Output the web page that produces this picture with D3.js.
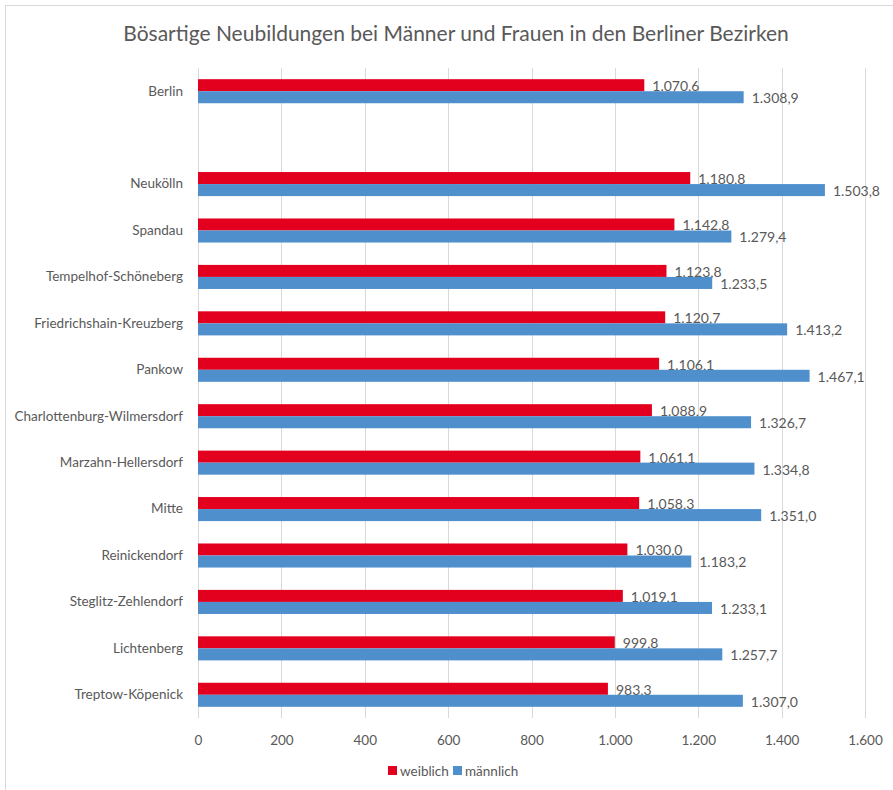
<html>
<head>
  <meta charset="utf-8">
  <style>
    body { margin: 0; background: #fff; }
    svg { font-family: Lato, "Open Sans", sans-serif; }
    .grid line { stroke: #d9d9d9; stroke-width: 1; }
    .label { fill: #595959; font-size: 13.5px; }
    .value { fill: #595959; font-size: 14px; }
  </style>
</head>
<body>
  <script src="https://cdn.jsdelivr.net/npm/d3@7"></script>
  <script>
    // values, top to bottom ("" = empty slot)
    const districts = ["Berlin", "", "Neukölln", "Spandau", "Tempelhof-Schöneberg",
      "Friedrichshain-Kreuzberg", "Pankow", "Charlottenburg-Wilmersdorf",
      "Marzahn-Hellersdorf", "Mitte", "Reinickendorf", "Steglitz-Zehlendorf",
      "Lichtenberg", "Treptow-Köpenick"];
    const weiblich = [1070.6, null, 1180.8, 1142.8, 1123.8, 1120.7, 1106.1, 1088.9,
      1061.1, 1058.3, 1030.0, 1019.1, 999.8, 983.3];
    const maennlich = [1308.9, null, 1503.8, 1279.4, 1233.5, 1413.2, 1467.1, 1326.7,
      1334.8, 1351.0, 1183.2, 1233.1, 1257.7, 1307.0];
    const series = ["weiblich", "männlich"];
    const colors = ["#e3001f", "#4f8fcc"];
    const xTicks = [0, 200, 400, 600, 800, 1000, 1200, 1400, 1600];

    const width = 893, height = 790;
    const de = d3.formatLocale({ decimal: ",", thousands: ".", grouping: [3], currency: ["", " €"] });
    const fmtVal = de.format(",.1f");
    const fmtTick = de.format(",.0f");

    const rows = districts.map((d, i) => ({ key: d || "_gap", name: d, values: [weiblich[i], maennlich[i]] }));

    const svg = d3.select("body").append("svg").attr("width", width).attr("height", height);

    // chart frame
    svg.append("rect")
      .attr("x", 5.5).attr("y", 5.5)
      .attr("width", width + 10).attr("height", height + 10)
      .attr("fill", "none").attr("stroke", "#d9d9d9");

    svg.append("text")
      .attr("x", 456).attr("y", 41)
      .attr("text-anchor", "middle")
      .attr("fill", "#595959")
      .style("font-size", "21px")
      .text("Bösartige Neubildungen bei Männer und Frauen in den Berliner Bezirken");

    const x = d3.scaleLinear().domain([0, 1600]).range([198, 865]);
    const y = d3.scaleBand().domain(rows.map(r => r.key)).range([68, 718]);
    const sub = d3.scaleBand().domain(series).range([0, y.bandwidth()]).paddingOuter(0.93);

    // grid
    svg.append("g").attr("class", "grid")
      .selectAll("line").data(xTicks).join("line")
      .attr("x1", d => Math.round(x(d)) + 0.5).attr("x2", d => Math.round(x(d)) + 0.5)
      .attr("y1", 68).attr("y2", 718);

    // x axis labels
    const xAxis = d3.axisBottom(x).tickValues(xTicks).tickFormat(fmtTick).tickSize(0).tickPadding(0);
    const ax = svg.append("g").attr("transform", "translate(0,745)").call(xAxis);
    ax.select(".domain").remove();
    ax.selectAll("text").attr("class", "label").attr("fill", null)
      .style("font-family", "Lato, 'Open Sans', sans-serif").style("font-size", "13.5px")
      .attr("dy", "0");

    // category labels
    const yAxis = d3.axisLeft(y).tickFormat(k => k === "_gap" ? "" : k).tickSize(0).tickPadding(0);
    const ay = svg.append("g").attr("transform", "translate(183,0)").call(yAxis);
    ay.select(".domain").remove();
    ay.selectAll("text").attr("class", "label").attr("fill", null)
      .style("font-family", "Lato, 'Open Sans', sans-serif").style("font-size", "13.5px");

    // bars
    const groups = svg.append("g").selectAll("g").data(rows.filter(r => r.name)).join("g")
      .attr("transform", d => `translate(0,${y(d.key)})`);

    const cells = groups.selectAll("g").data(d => d.values.map((v, i) => ({ v, s: series[i], c: colors[i] })))
      .join("g");

    cells.append("rect")
      .attr("x", x(0))
      .attr("y", d => sub(d.s))
      .attr("width", d => x(d.v) - x(0))
      .attr("height", sub.bandwidth())
      .attr("fill", d => d.c);

    cells.append("text")
      .attr("class", "value")
      .attr("x", d => x(d.v) + 8)
      .attr("y", d => sub(d.s) + sub.bandwidth() / 2 + 1)
      .attr("dy", "0.35em")
      .text(d => fmtVal(d.v));

    // legend
    const legend = svg.append("g").attr("transform", "translate(388,771)");
    const items = legend.selectAll("g").data(series).join("g")
      .attr("transform", (d, i) => `translate(${i * 65},0)`);
    items.append("rect").attr("x", 0).attr("y", -5).attr("width", 9).attr("height", 9)
      .attr("fill", (d, i) => colors[i]);
    items.append("text").attr("class", "label").attr("x", 12).attr("y", 0).attr("dy", "0.35em")
      .text(d => d);
  </script>
</body>
</html>
